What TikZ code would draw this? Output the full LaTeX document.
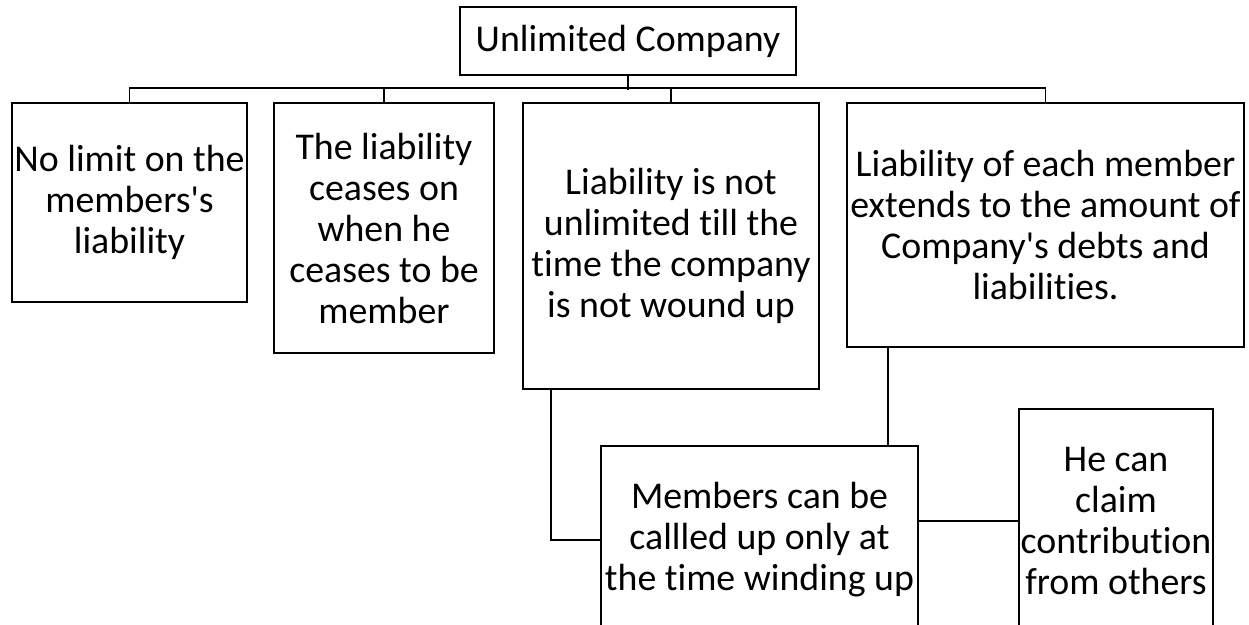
\documentclass[tikz,border=0pt]{standalone}
\usepackage{fontspec}
\setmainfont{Carlito}[Ligatures={TeX,NoCommon}]
\usepackage{xcolor}
\usetikzlibrary{positioning}
\definecolor{bg}{HTML}{FFFFFF}
\definecolor{ink}{HTML}{000000}
\tikzset{
  box/.style={draw=ink, line width=1.2pt, inner sep=0pt, align=center,
    text=ink, font=\fontsize{22.7}{24.6}\selectfont},
  link/.style={draw=ink, line width=1.1pt}
}

\begin{document}
\begin{tikzpicture}[x=0.6pt, y=-0.6pt]
  % page in pixel units, y runs downwards
  \fill[bg] (0,0) rectangle (1249,624);
  \clip (0,0) rectangle (1249,624);

  \node[box, minimum width=201.6pt, minimum height=40.8pt] (root) at (628,41) {Unlimited Company};

  \node[box, minimum width=141pt, minimum height=119.4pt] (limit) at (129.5,202.5)
    {No limit on the\\members\textquotesingle s\\liability};
  \node[box, minimum width=132pt, minimum height=150pt] (cease) at (384,228)
    {The liability\\ceases on\\when he\\ceases to be\\member};
  \node[box, minimum width=177.6pt, minimum height=171.6pt] (wound) at (671,246)
    {Liability is not\\unlimited till the\\time the company\\is not wound up};
  \node[box, minimum width=238.2pt, minimum height=146.4pt] (extend) at (1045.5,225)
    {Liability of each member\\extends to the amount of\\Company\textquotesingle s debts and\\liabilities.};

  \node[box, minimum width=190.2pt, minimum height=112.8pt] (called) at (759.5,540)
    {Members can be\\callled up only at\\the time winding up};
  \node[box, minimum width=116.4pt, minimum height=134.4pt] (claim) at (1116,521)
    {He can\\claim\\contribution\\from others};

  % tree lines
  \draw[link] (root.south) -- ++(0,14);
  \draw[link] (limit.north) -- ++(0,-14) -| (extend.north);
  \draw[link] (cease.north) -- ++(0,-14);
  \draw[link] (wound.north) -- ++(0,-14);

  \coordinate (drop) at ([xshift=-18.6pt]called.north east);
  \draw[link] (extend.south -| drop) -- (called.north -| drop);
  \draw[link] ([xshift=17.4pt]wound.south west) |- (called.west);
  \draw[link] (claim.west) -- (claim.west -| called.east);
\end{tikzpicture}
\end{document}
